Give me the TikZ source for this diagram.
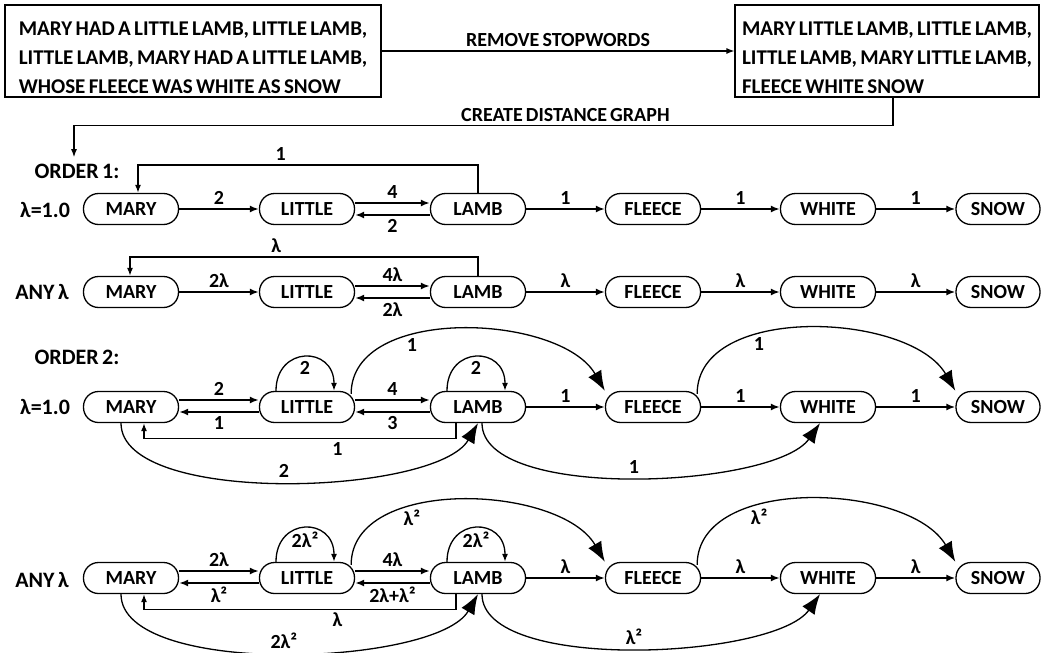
\documentclass[tikz,border=0pt]{standalone}
\usepackage{fontspec}
\setmainfont{Carlito}[WordSpace=0.7]
\usetikzlibrary{arrows.meta}

\begin{document}
\begin{tikzpicture}[
    x=1pt, y=1pt,
    word/.style={rectangle, draw, line width=1.3pt, rounded corners=15pt, minimum width=95pt, minimum height=31pt, inner sep=2pt, font=\fontsize{20}{24}\selectfont\bfseries},
    txtbox/.style={rectangle, draw, line width=1.3pt, minimum height=92pt, inner xsep=7pt, inner ysep=0pt, align=left, font=\fontsize{21}{29}\selectfont\bfseries},
    lbl/.style={font=\fontsize{20}{24}\selectfont\bfseries},
    title/.style={font=\fontsize{22}{26}\selectfont\bfseries},
    arr/.style={-{Latex[length=9pt,width=7pt]}, line width=2.2pt},
    thin/.style={-{Latex[length=8pt,width=6pt]}, line width=1.3pt},
    arc/.style={-{Latex[length=20pt,width=15pt]}, line width=1.3pt},
]
\useasboundingbox (0,0) rectangle (1042,-653);

% Text boxes at the top
\node[txtbox, minimum width=376pt] (src) at (193,-51) {\rule{0pt}{27pt}MARY HAD A LITTLE LAMB, LITTLE LAMB,\\LITTLE LAMB, MARY HAD A LITTLE LAMB,\\WHOSE FLEECE WAS WHITE AS SNOW};
\node[txtbox, minimum width=302pt] (clean) at (887,-51) {\rule{0pt}{27pt}MARY LITTLE LAMB, LITTLE LAMB,\\LITTLE LAMB, MARY LITTLE LAMB,\\FLEECE WHITE SNOW};

% Row titles
\node[title] (ord1) at (77,-171) {ORDER 1:};
\node[title] (ord2) at (77,-357) {ORDER 2:};
\node[title] (lam1) at (45,-210) {λ=1.0};
\node[title] (any1) at (42,-292) {ANY λ};
\node[title] (lam2) at (45,-407) {λ=1.0};
\node[title] (any2) at (42,-580) {ANY λ};

\draw[thin] (src) -- node[lbl, above] {REMOVE STOPWORDS} (clean);
\draw[thin] ([xshift=6pt]clean.south) -- ++(0,-28) -| node[lbl, above, pos=0.2] {CREATE DISTANCE GRAPH} ([xshift=-3pt,yshift=3pt]ord1.north);

% Word nodes, one row per graph
\foreach \r/\y in {1/209, 2/292, 3/407, 4/578} {
  \node[word] (m\r) at (131,-\y) {MARY};
  \node[word] (li\r) at (307,-\y) {LITTLE};
  \node[word] (la\r) at (478,-\y) {LAMB};
  \node[word] (f\r) at (653,-\y) {FLEECE};
  \node[word] (w\r) at (828,-\y) {WHITE};
  \node[word, minimum width=84pt] (s\r) at (998,-\y) {SNOW};
}

% Order 1, lambda = 1.0
\draw[arr] (m1) -- node[lbl, above] {2} (li1);
\draw[arr] ([yshift=6pt]li1.east) -- node[lbl, above] {4} ([yshift=6pt]la1.west);
\draw[arr] ([yshift=-6pt]la1.west) -- node[lbl, below] {2} ([yshift=-6pt]li1.east);
\draw[thin] (la1.north) -- ++(0,28) -| node[lbl, above, pos=0.29] {1} ([xshift=7pt]m1.north);
\draw[arr] (la1) -- node[lbl, above] {1} (f1);
\draw[arr] (f1) -- node[lbl, above] {1} (w1);
\draw[arr] (w1) -- node[lbl, above] {1} (s1);

% Order 1, any lambda
\draw[arr] (m2) -- node[lbl, above] {2λ} (li2);
\draw[arr] ([yshift=6pt]li2.east) -- node[lbl, above] {4λ} ([yshift=6pt]la2.west);
\draw[arr] ([yshift=-6pt]la2.west) -- node[lbl, below] {2λ} ([yshift=-6pt]li2.east);
\draw[thin] (la2.north) -- ++(0,19) -| node[lbl, above, pos=0.29] {λ} ([xshift=-1pt]m2.north);
\draw[arr] (la2) -- node[lbl, above] {λ} (f2);
\draw[arr] (f2) -- node[lbl, above] {λ} (w2);
\draw[arr] (w2) -- node[lbl, above] {λ} (s2);

% Order 2, lambda = 1.0
\draw[arr] ([yshift=7pt]m3.east) -- node[lbl, above] {2} ([yshift=7pt]li3.west);
\draw[arr] ([yshift=-5pt]li3.west) -- node[lbl, below] {1} ([yshift=-5pt]m3.east);
\draw[thin] ([xshift=-31pt]li3.north) to[out=90, in=90, looseness=2] node[lbl, below] {2} ([xshift=27pt]li3.north);
\draw[arr] ([yshift=7pt]li3.east) -- node[lbl, above] {4} ([yshift=7pt]la3.west);
\draw[arr] ([yshift=-5pt]la3.west) -- node[lbl, below] {3} ([yshift=-5pt]li3.east);
\draw[thin] ([xshift=-31pt]la3.north) to[out=90, in=90, looseness=2] node[lbl, below] {2} ([xshift=27pt]la3.north);
\draw[thin] ([xshift=-22pt]la3.south) -- ++(0,-15) -| node[lbl, below, pos=0.19] {1} ([xshift=13pt]m3.south);
\draw[arc] ([xshift=-10pt]m3.south) to[out=-90, in=-120, looseness=0.6] node[lbl, above] {2} (la3.south);
\draw[arc] ([xshift=-4pt,yshift=-3pt]li3.north east) to[out=90, in=120, looseness=0.9] node[lbl, below, pos=0.35] {1} (f3.north west);
\draw[arr] (la3) -- node[lbl, above] {1} (f3);
\draw[arr] (f3) -- node[lbl, above] {1} (w3);
\draw[arr] (w3) -- node[lbl, above] {1} (s3);
\draw[arc] ([xshift=-4pt,yshift=-3pt]f3.north east) to[out=90, in=120, looseness=0.9] node[lbl, below, pos=0.35] {1} (s3.north west);
\draw[arc] ([xshift=4pt]la3.south) to[out=-90, in=-125, looseness=0.6] node[lbl, above] {1} ([xshift=-8pt]w3.south);

% Order 2, any lambda
\draw[arr] ([yshift=7pt]m4.east) -- node[lbl, above] {2λ} ([yshift=7pt]li4.west);
\draw[arr] ([yshift=-5pt]li4.west) -- node[lbl, below] {λ²} ([yshift=-5pt]m4.east);
\draw[thin] ([xshift=-31pt]li4.north) to[out=90, in=90, looseness=2] node[lbl, below] {2λ²} ([xshift=27pt]li4.north);
\draw[arr] ([yshift=7pt]li4.east) -- node[lbl, above] {4λ} ([yshift=7pt]la4.west);
\draw[arr] ([yshift=-5pt]la4.west) -- node[lbl, below] {2λ+λ²} ([yshift=-5pt]li4.east);
\draw[thin] ([xshift=-31pt]la4.north) to[out=90, in=90, looseness=2] node[lbl, below] {2λ²} ([xshift=27pt]la4.north);
\draw[thin] ([xshift=-22pt]la4.south) -- ++(0,-15) -| node[lbl, below, pos=0.19] {λ} ([xshift=13pt]m4.south);
\draw[arc] ([xshift=-10pt]m4.south) to[out=-90, in=-120, looseness=0.6] node[lbl, above] {2λ²} (la4.south);
\draw[arc] ([xshift=-4pt,yshift=-3pt]li4.north east) to[out=90, in=120, looseness=0.9] node[lbl, below, pos=0.35] {λ²} (f4.north west);
\draw[arr] (la4) -- node[lbl, above] {λ} (f4);
\draw[arr] (f4) -- node[lbl, above] {λ} (w4);
\draw[arr] (w4) -- node[lbl, above] {λ} (s4);
\draw[arc] ([xshift=-4pt,yshift=-3pt]f4.north east) to[out=90, in=120, looseness=0.9] node[lbl, below, pos=0.35] {λ²} (s4.north west);
\draw[arc] ([xshift=4pt]la4.south) to[out=-90, in=-125, looseness=0.6] node[lbl, above] {λ²} ([xshift=-8pt]w4.south);
\end{tikzpicture}
\end{document}
